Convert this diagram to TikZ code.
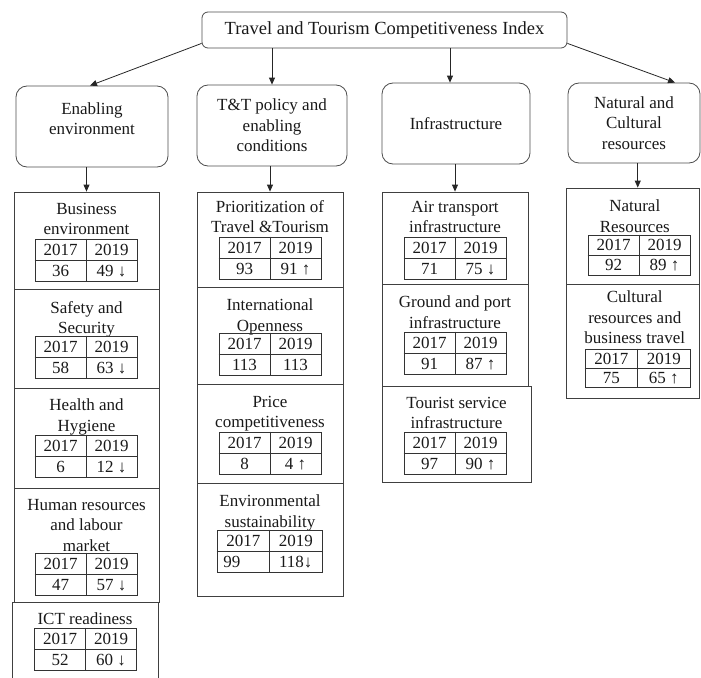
\documentclass[tikz,border=0pt]{standalone}
\usepackage{fontspec}
\setmainfont{Liberation Serif}
\newfontfamily\tnr{Liberation Serif}
\usetikzlibrary{arrows.meta}
\newcommand{\scoretable}[7]{%
  \node[tbl, minimum width=#4pt, minimum height=#5pt] (#1) at (#2,{#3+#5/2}) {};
  \draw[tline] (#1.west) -- (#1.east) (#1.north) -- (#1.south);
  \node[val] (#1-a) at ([xshift={-(#4)/4*1pt}, yshift={((#5)/4-5.75)*1pt}]#1.center) {2017};
  \node[val] (#1-b) at ([xshift={(#4)/4*1pt}, yshift={((#5)/4-5.75)*1pt}]#1.center) {2019};
  \node[val] (#1-c) at ([xshift={-(#4)/4*1pt}, yshift={(-(#5)/4-5.75)*1pt}]#1.center) {#6};
  \node[val] (#1-d) at ([xshift={(#4)/4*1pt}, yshift={(-(#5)/4-5.75)*1pt}]#1.center) {#7};
}
\begin{document}
\begin{tikzpicture}[x=1pt,y=-1pt,
  lvl/.style={draw=black!70, line width=0.8pt, rounded corners=11pt, align=center, inner sep=2pt,
    font=\tnr\fontsize{17}{20.5}\selectfont, text=black!90},
  sbox/.style={draw=black!75, line width=0.8pt, inner sep=0pt},
  ttl/.style={anchor=north, align=center, inner sep=0pt, font=\tnr\fontsize{17}{20.5}\selectfont, text=black!90},
  tbl/.style={draw=black!80, line width=0.8pt, inner sep=0pt},
  tline/.style={draw=black!80, line width=0.8pt},
  val/.style={anchor=base, inner sep=0pt, font=\tnr\fontsize{17}{20.5}\selectfont, text=black!90},
  arr/.style={draw=black!85, line width=0.8pt, -{Triangle[length=7pt,width=6pt]}}
]
\useasboundingbox (0,0) rectangle (701,677);
\clip (0,0) rectangle (701,677);

% top
\node[lvl, rounded corners=6pt, minimum width=365pt, minimum height=36pt,
  font=\tnr\fontsize{18.5}{22}\selectfont] (top) at (384.5,30) {Travel and Tourism Competitiveness Index};

% level 2
\node[lvl, minimum width=152pt, minimum height=81pt, text depth=16pt] (env) at (92,126.5) {Enabling\\environment};
\node[lvl, minimum width=150pt, minimum height=81pt] (pol) at (272,125.5) {T\&T policy and\\enabling\\conditions};
\node[lvl, minimum width=148pt, minimum height=81pt] (inf) at (456,123.5) {Infrastructure};
\node[lvl, minimum width=132pt, minimum height=80pt] (nat) at (634,123) {Natural and\\Cultural\\resources};

% column 1
\node[sbox, minimum width=145pt, minimum height=97pt] (be) at (86.5,240.5) {};
\node[ttl] (be-t) at ([yshift=-11.3pt]be.north) {Business\\environment};
\scoretable{be-g}{86}{239}{102}{42}{36}{49 ↓}

\node[sbox, minimum width=145pt, minimum height=99pt] (ss) at (86.5,338.5) {};
\node[ttl] (ss-t) at ([yshift=-12.3pt]ss.north) {Safety and\\Security};
\scoretable{ss-g}{86}{336}{102}{42}{58}{63 ↓}

\node[sbox, minimum width=145pt, minimum height=100pt] (hh) at (86.5,438) {};
\node[ttl] (hh-t) at ([yshift=-11.3pt]hh.north) {Health and\\Hygiene};
\scoretable{hh-g}{86}{435}{102}{42}{6}{12 ↓}

\node[sbox, minimum width=145pt, minimum height=114pt] (hr) at (86.5,545) {};
\node[ttl] (hr-t) at ([yshift=-11.3pt]hr.north) {Human resources\\and labour\\market};
\scoretable{hr-g}{86}{553}{102}{42}{47}{57 ↓}

\node[sbox, minimum width=146pt, minimum height=80pt] (ict) at (85,642) {};
\node[ttl] (ict-t) at ([yshift=-11.3pt]ict.north) {ICT readiness};
\scoretable{ict-g}{85.5}{628}{102}{42}{52}{60 ↓}

% column 2
\node[sbox, minimum width=146pt, minimum height=95pt] (pr) at (270,239.5) {};
\node[ttl] (pr-t) at ([yshift=-8.3pt]pr.north) {Prioritization of\\Travel \&Tourism};
\scoretable{pr-g}{270}{237}{102}{42}{93}{91 ↑}

\node[sbox, minimum width=146pt, minimum height=97pt] (io) at (270,335.5) {};
\node[ttl] (io-t) at ([yshift=-12.3pt]io.north) {International\\Openness};
\scoretable{io-g}{270}{333}{102}{42}{113}{113}

\node[sbox, minimum width=146pt, minimum height=99pt] (pc) at (270,433.5) {};
\node[ttl] (pc-t) at ([yshift=-12.3pt]pc.north) {Price\\competitiveness};
\scoretable{pc-g}{270}{432}{102}{42}{8}{4 ↑}

\node[sbox, minimum width=146pt, minimum height=113pt] (es) at (270,539.5) {};
\node[ttl] (es-t) at ([yshift=-12.3pt]es.north) {Environmental\\sustainability};
\scoretable{es-g}{269.5}{530}{105}{42}{\makebox[40pt][l]{99}}{118↓}

% column 3
\node[sbox, minimum width=146pt, minimum height=92pt] (at) at (455,238) {};
\node[ttl] (at-t) at ([yshift=-9.3pt]at.north) {Air transport\\infrastructure};
\scoretable{at-g}{455}{237}{102}{42}{71}{75 ↓}

\node[sbox, minimum width=146pt, minimum height=102pt] (gp) at (455,335) {};
\node[ttl] (gp-t) at ([yshift=-12.3pt]gp.north) {Ground and port\\infrastructure};
\scoretable{gp-g}{455}{332}{102}{42}{91}{87 ↑}

\node[sbox, minimum width=149pt, minimum height=96pt] (ts) at (456.5,434) {};
\node[ttl] (ts-t) at ([yshift=-11.3pt]ts.north) {Tourist service\\infrastructure};
\scoretable{ts-g}{455}{432}{102}{42}{97}{90 ↑}

% column 4
\node[sbox, minimum width=133.5pt, minimum height=96pt] (nr) at (632.75,236) {};
\node[ttl] (nr-t) at ([yshift=-12.3pt, xshift=2pt]nr.north) {Natural\\Resources};
\scoretable{nr-g}{639}{235}{102}{40}{92}{89 ↑}

\node[sbox, minimum width=133.5pt, minimum height=114pt] (cr) at (632.75,341) {};
\node[ttl] (cr-t) at ([yshift=-7.3pt, xshift=2pt]cr.north) {Cultural\\resources and\\business travel};
\scoretable{cr-g}{637.5}{349}{105}{38}{75}{65 ↑}

% connectors from top
\coordinate (infin) at ([xshift=-6pt]inf.north);
\coordinate (natin) at ([xshift=41pt]nat.north);
\coordinate (envin) at ([xshift=-2pt]env.north);
\draw[arr] ([yshift=5pt]top.south west) -- (envin);
\draw[arr] (pol.north |- top.south) -- (pol.north);
\draw[arr] (infin |- top.south) -- (infin);
\draw[arr] ([yshift=5pt]top.south east) -- (natin);

% connectors to first sub boxes
\coordinate (nrin) at ([xshift=5pt]nr.north);
\draw[arr] (be.north |- env.south) -- (be.north);
\draw[arr] (pr.north |- pol.south) -- (pr.north);
\draw[arr] (at.north |- inf.south) -- (at.north);
\draw[arr] (nrin |- nat.south) -- (nrin);
\end{tikzpicture}
\end{document}
